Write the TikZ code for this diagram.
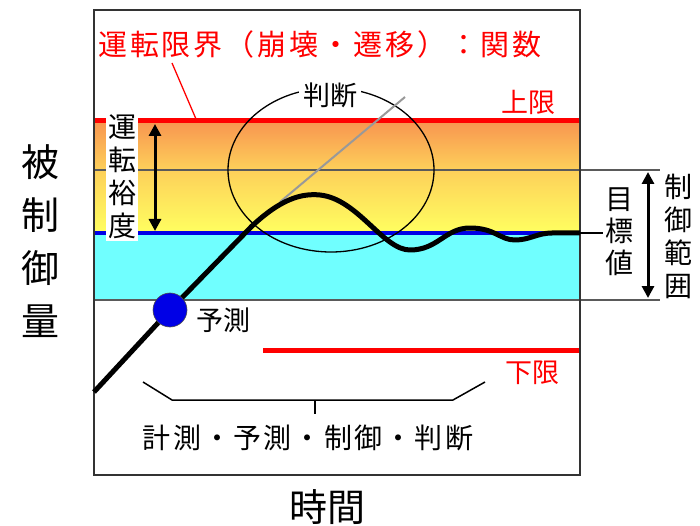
\documentclass[tikz,border=0pt]{standalone}
\usepackage{fontspec}
\setmainfont{Noto Sans CJK JP}
\usetikzlibrary{arrows.meta,shapes.geometric}
\definecolor{myorange}{RGB}{248,150,80}
\definecolor{myyellowor}{RGB}{253,208,90}
\definecolor{myyellow}{RGB}{255,255,96}
\definecolor{mycyan}{RGB}{112,255,255}
\definecolor{myblue}{RGB}{0,0,230}
\definecolor{mygrey}{RGB}{90,90,90}
\begin{document}
\begin{tikzpicture}[x=1pt,y=-1pt,
  lbl/.style={font=\fontsize{27}{30}\selectfont, inner sep=1pt, text=black},
  redlbl/.style={lbl, text=red},
  vlbl/.style={font=\fontsize{28}{33}\selectfont, align=center, inner sep=2pt, fill=white},
  limitline/.style={line width=5pt, red},
  guide/.style={line width=1.3pt, mygrey},
  dblarrow/.style={line width=3pt, {Triangle[length=12pt,width=12pt]}-{Triangle[length=12pt,width=12pt]}},
  curve/.style={line width=5pt, black, line join=round}
]
\useasboundingbox (0,0) rectangle (700,526);
% bands
\shade[top color=myorange, bottom color=myyellowor] (94,122) rectangle (580,170);
\shade[top color=myyellowor, bottom color=myyellow] (94,170) rectangle (580,233);
\fill[mycyan] (94,233) rectangle (580,300);
% guide lines
\coordinate (g1a) at (94,170); \coordinate (g1b) at (660,170);
\coordinate (g2a) at (94,300); \coordinate (g2b) at (660,300);
\draw[guide] (g1a) -- (g1b);
\draw[guide] (g2a) -- (g2b);
% limit lines
\coordinate (ula) at (94,121); \coordinate (ulb) at (580,121);
\draw[limitline] (ula) -- (ulb);
\coordinate (lla) at (263,350); \coordinate (llb) at (580,350);
\draw[limitline] (lla) -- (llb);
% target line
\coordinate (ta) at (94,233); \coordinate (tb) at (580,233);
\draw[line width=4.5pt, myblue] (ta) -- (tb);
% frame
\draw[line width=2pt, black!80] (94,10) rectangle (580,475);
% ellipse
\node[draw, line width=1.3pt, ellipse, minimum width=206pt, minimum height=164pt, inner sep=0pt] (ell) at (331,170) {};
% grey judgment line
\coordinate (j1) at (280,202); \coordinate (j2) at (405,97);
\draw[line width=2pt, gray!80] (j1) -- (j2);
% response curve
\coordinate (c0) at (94,392);
\coordinate (c1) at (170,310);
\draw[curve] (c0) -- (c1) -- (252,226) .. controls (280,200) and (300,193) .. (320,195)
  .. controls (358,199) and (383,250) .. (410,250)
  .. controls (438,250) and (445,228) .. (470,228)
  .. controls (495,228) and (500,240) .. (515,240)
  .. controls (530,240) and (537,233) .. (552,233) -- (tb);
% prediction point
\node[circle, fill=myblue, draw=black!70, line width=0.6pt, minimum size=34pt, inner sep=0pt] (pred) at (c1) {};
% arrows
\coordinate (la1) at (155,124); \coordinate (la2) at (155,231);
\draw[dblarrow] (la1) -- (la2);
\coordinate (ra1) at (648,172); \coordinate (ra2) at (648,298);
\draw[dblarrow] (ra1) -- (ra2);
% target connector
\coordinate (tc) at (603,233);
\draw[line width=1.3pt] (tb) -- (tc);
% title pointer
\coordinate (tp1) at (172,63); \coordinate (tp2) at (196,119);
\draw[line width=1.3pt, red] (tp1) -- (tp2);
% bracket
\coordinate (b1) at (143,382); \coordinate (b2) at (172,400);
\coordinate (b3) at (453,400); \coordinate (b4) at (485,382);
\coordinate (bm) at (315,400); \coordinate (bt) at (315,414);
\draw[line width=1.5pt] (b1) -- (b2) -- (b3) -- (b4);
\draw[line width=1.5pt] (bm) -- (bt);
% labels
\node[redlbl, font=\fontsize{29}{30}\selectfont\addfontfeature{LetterSpace=10}] (title) at (320,44) {運転限界（崩壊・遷移）：関数};
\node[lbl, fill=white, inner sep=4pt] (judge) at (330,95) {判断};
\node[redlbl] (ul) at (528,102) {上限};
\node[redlbl] (ll) at (532,373) {下限};
\node[lbl, fill=white, inner sep=3pt] (predl) at (223,320) {予測};
\node[lbl, font=\fontsize{28}{30}\selectfont\addfontfeature{LetterSpace=8}] (steps) at (308,438) {計測・予測・制御・判断};
\node[vlbl] (margin) at (122,177) {運\\転\\裕\\度};
\node[vlbl, font=\fontsize{28}{32}\selectfont] (target) at (619,232) {目\\標\\値};
\node[vlbl, font=\fontsize{28}{33}\selectfont, fill=none] (range) at (678,236) {制\\御\\範\\囲};
\node[vlbl, font=\fontsize{38}{53}\selectfont] (yaxis) at (40,241) {被\\制\\御\\量};
\node[lbl, font=\fontsize{38}{40}\selectfont] (xaxis) at (327,507) {時間};
\end{tikzpicture}
\end{document}
